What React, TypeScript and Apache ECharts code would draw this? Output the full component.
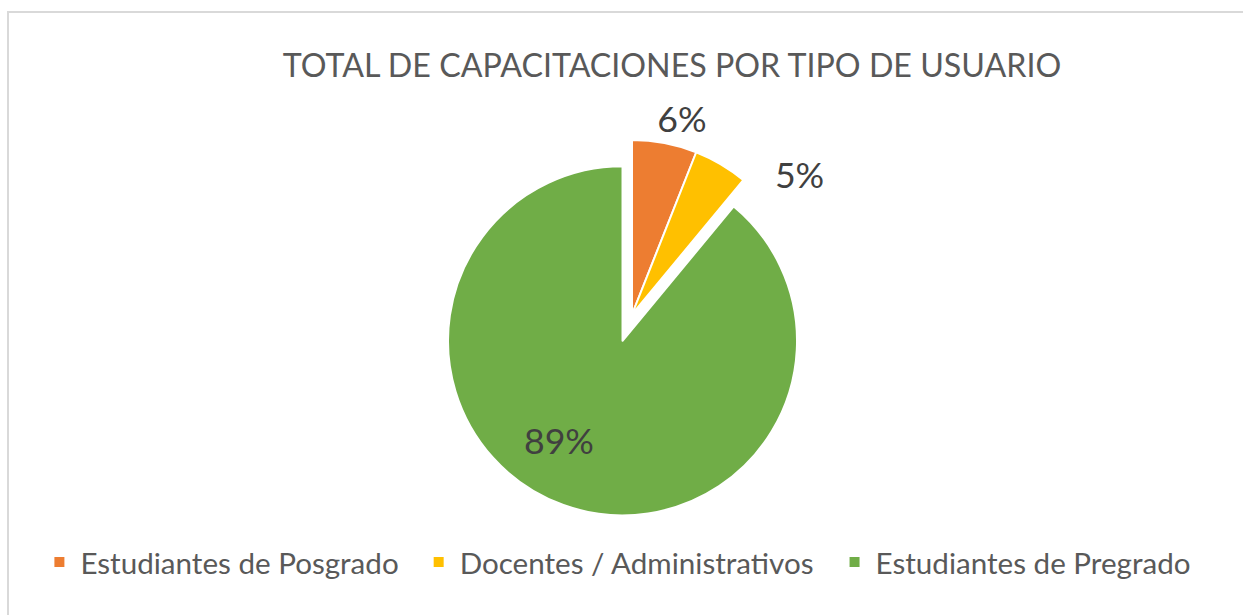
import React, { useEffect, useRef } from "react";
import * as echarts from "echarts";

const TITLE = "TOTAL DE CAPACITACIONES POR TIPO DE USUARIO";
const categories = ["Estudiantes de Posgrado", "Docentes / Administrativos", "Estudiantes de Pregrado"];
const values = [6, 5, 89];
const colors = ["#ED7D31", "#FFC000", "#70AD47"];
const exploded = [false, false, true];
const labelPositions = ["outside", "outside", "inside"];
const labelDx = [-14, 45, -33];
const labelDy = [-17, 17, 15];

const FONT = "Lato";

function fitSize(text: string, target: number, family: string): number {
  const c = document.createElement("canvas").getContext("2d");
  if (!c) return 20;
  c.font = `100px ${family}`;
  const w = c.measureText(text).width;
  return Math.round((100 * target / w) * 10) / 10;
}

export default function App() {
  const ref = useRef<HTMLDivElement>(null);
  useEffect(() => {
    if (!ref.current) return;
    const chart = echarts.init(ref.current, undefined, { renderer: "svg" });
    const titleSize = fitSize(TITLE, 780, FONT);
    const labelSize = fitSize("89%", 70, FONT);
    const legendSize = fitSize(categories[0], 318, FONT);
    const titleLH = Math.round(titleSize * 1.2);
    const legendLH = 30;
    chart.setOption({
      animation: false,
      backgroundColor: "#ffffff",
      graphic: [
        {
          type: "rect",
          shape: { x: 8, y: 12, width: 1600, height: 1000 },
          style: { fill: "none", stroke: "#d9d9d9", lineWidth: 2 },
          silent: true,
        },
      ],
      title: {
        text: TITLE,
        left: 672,
        textAlign: "center",
        top: 64 - titleLH / 2,
        padding: 0,
        textStyle: {
          fontFamily: FONT,
          fontWeight: "normal",
          fontSize: titleSize,
          lineHeight: titleLH,
          color: "#595959",
        },
      },
      legend: {
        data: categories,
        left: "center",
        top: 562 - legendLH / 2,
        padding: 0,
        icon: "rect",
        itemWidth: 12,
        itemHeight: 12,
        itemGap: 33,
        selectedMode: false,
        textStyle: {
          fontFamily: FONT,
          fontSize: legendSize,
          lineHeight: legendLH,
          color: "#595959",
          padding: [0, 0, 0, 10],
        },
      },
      series: [
        {
          type: "pie",
          center: [632, 314.5],
          radius: 174.5,
          startAngle: 90,
          clockwise: true,
          selectedMode: "multiple",
          selectedOffset: 28,
          avoidLabelOverlap: false,
          emphasis: { disabled: true },
          select: { itemStyle: { borderColor: "#ffffff", borderWidth: 2 } },
          itemStyle: { borderColor: "#ffffff", borderWidth: 2 },
          labelLine: { show: false, length: 8, length2: 0 },
          label: {
            show: true,
            formatter: "{d}%",
            fontFamily: FONT,
            fontSize: labelSize,
            color: "#404040",
          },
          labelLayout: (params: any) => ({
            dx: labelDx[params.dataIndex],
            dy: labelDy[params.dataIndex],
          }),
          data: categories.map((name, i) => ({
            name,
            value: values[i],
            selected: exploded[i],
            itemStyle: { color: colors[i] },
            label: { position: labelPositions[i] },
          })),
        },
      ],
    });
    return () => chart.dispose();
  }, []);
  return (
    <div
      ref={ref}
      style={{ position: "fixed", left: 0, top: 0, width: 1243, height: 615 }}
    />
  );
}
